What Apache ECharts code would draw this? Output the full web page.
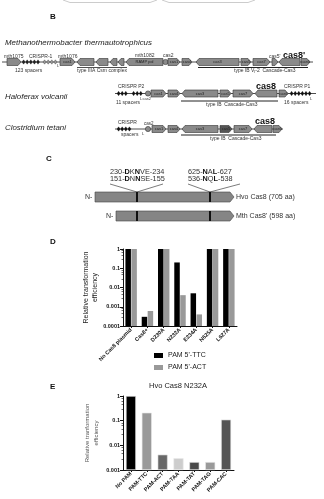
<!DOCTYPE html>
<html>
<head>
<meta charset="utf-8">
<script src="https://cdn.jsdelivr.net/npm/echarts@6/dist/echarts.min.js"></script>
<style>
  html, body { margin: 0; padding: 0; background: #fff; }
  #chart { width: 324px; height: 499px; }
</style>
</head>
<body>
<div id="chart"></div>
<script>
// panel D: relative transformation efficiency per Cas8 variant
const mutants = ["No Cas8 plasmid", "Cas8+", "D230A", "N232A", "E234A", "N625A", "L627A"]
const pamTTC = [1, 0.0003, 1, 0.2, 0.005, 1, 1]
const pamACT = [1, 0.0006, 1, 0.004, 0.0004, 1, 1]
const dTicks = ["0.0001", "0.001", "0.01", "0.1", "1"]

// panel E: Hvo Cas8 N232A against different PAMs
const pams = ["No PAM", "PAM-TTC", "PAM-ACT", "PAM-TAA", "PAM-TAT", "PAM-TAG", "PAM-CAC"]
const pamEff = [1, 0.21, 0.0042, 0.003, 0.0021, 0.0021, 0.11]
const eTicks = ["0.001", "0.01", "0.1", "1"]

const eColors = ["#000", "#9a9a9a", "#686868", "#cdcdcd", "#4a4a4a", "#9a9a9a", "#555"]
const F = "Liberation Sans, Arial, sans-serif"

// ---- drawing helpers for the gene maps (panels B, C) ----
const els = []
function T(x, y, s, size, o = {}) {
  els.push({
    type: "text", x, y, silent: true,
    style: {
      text: s, fontSize: size, fontFamily: F,
      fill: o.fill || "#333", align: o.align || "left", verticalAlign: "middle",
      fontWeight: o.bold ? "bold" : "normal", fontStyle: o.italic ? "italic" : "normal",
      rich: o.rich,
    },
  })
}
function L(x1, y1, x2, y2, w = 0.8, c = "#222") {
  els.push({ type: "line", silent: true, shape: { x1, y1, x2, y2 }, style: { stroke: c, lineWidth: w } })
}
function gene(x1, x2, y, dir, label, fill = "#8a8a8a") {
  const p = 3, t = y - 3.5, b = y + 3.5
  const pts = dir === "r"
    ? [[x1, t], [x2 - p, t], [x2, y], [x2 - p, b], [x1, b]]
    : [[x1 + p, t], [x2, t], [x2, b], [x1 + p, b], [x1, y]]
  els.push({ type: "polygon", silent: true, shape: { points: pts }, style: { fill, stroke: "#333", lineWidth: 0.6 } })
  if (label) T((x1 + x2) / 2, y, label, 4, { align: "center", fill: "#222" })
}
function crispr(x1, x2, y, fill) {
  for (let x = x1; x + 3 <= x2; x += 3.6) {
    els.push({
      type: "polygon", silent: true,
      shape: { points: [[x, y], [x + 1.6, y - 2.2], [x + 3.2, y], [x + 1.6, y + 2.2]] },
      style: { fill, stroke: "#111", lineWidth: 0.3 },
    })
  }
}
function dot(cx, cy) {
  els.push({ type: "circle", silent: true, shape: { cx, cy, r: 2.6 }, style: { fill: "#8a8a8a", stroke: "#333", lineWidth: 0.6 } })
}

// remnants of the panel above
els.push({ type: "polyline", silent: true, shape: { points: [[63, 0], [70, 2.5], [150, 2.5], [157, 0]] }, style: { stroke: "#ccc", lineWidth: 1, fill: null } })
els.push({ type: "polyline", silent: true, shape: { points: [[162, 0], [169, 2.5], [248, 2.5], [255, 0]] }, style: { stroke: "#ccc", lineWidth: 1, fill: null } })

// panel letters
T(50, 17, "B", 8, { bold: true, fill: "#111" })
T(46, 159, "C", 8, { bold: true, fill: "#111" })
T(50, 242, "D", 8, { bold: true, fill: "#111" })
T(50, 387, "E", 8, { bold: true, fill: "#111" })

const sub = { s: { fontSize: 3.5, fontFamily: F, fill: "#333", verticalAlign: "bottom", padding: [3, 0, 0, 0] } }

// Methanothermobacter row
T(5, 43, "Methanothermobacter thermautotrophicus", 7.9, { italic: true, fill: "#222" })
L(2, 62, 313, 62)
gene(7, 21, 62, "r", "")
crispr(22, 40, 62, "#222")
crispr(43, 58, 62, "#999")
gene(60, 75, 62, "r", "cas1")
gene(77, 94, 62, "l", "")
gene(96, 108, 62, "l", "")
gene(110, 117, 62, "l", "")
gene(118, 124, 62, "l", "")
gene(126, 163, 62, "l", "RAMP pol")
dot(165.5, 62)
gene(168, 180, 62, "r", "cas1")
gene(182, 192, 62, "r", "cas4")
gene(196, 239, 62, "l", "cas3")
gene(241, 251, 62, "r", "cas5")
gene(253, 270, 62, "r", "cas7")
gene(272, 278, 62, "r", "")
gene(279, 300, 62, "l", "")
gene(301, 310, 62, "r", "cas6")
T(4, 56.5, "mth1075", 5)
T(29, 56.5, "CRISPR-1", 5)
T(58, 56.5, "mth1076", 5)
T(135, 55.5, "mth1082", 5)
T(163, 56, "cas2", 5)
T(269, 57, "cas5'", 5)
T(283, 56, "cas8'", 9, { bold: true, fill: "#111" })
T(57, 66, "L", 4)
T(15, 70.5, "123 spacers", 5)
L(77, 67.5, 127, 67.5)
T(77, 70.5, "type IIIA Csm complex", 5)
L(198, 67.5, 308, 67.5, 1)
T(234, 70.5, "type IB V{s|I}-2  Cascade-Cas3", 5, { rich: sub })

// Haloferax row
T(5, 97, "Haloferax volcanii", 7.9, { italic: true, fill: "#222" })
L(115, 93.5, 316, 93.5)
crispr(117, 129, 93.5, "#111")
crispr(132, 144, 93.5, "#111")
dot(148, 93.5)
gene(151, 166, 93.5, "r", "cas1")
gene(168, 180, 93.5, "r", "cas4")
gene(182, 218, 93.5, "l", "cas3")
gene(220, 231, 93.5, "r", "cas5")
gene(233, 253, 93.5, "r", "cas7")
gene(255, 277, 93.5, "l", "")
gene(279, 288, 93.5, "r", "cas6")
crispr(290, 314, 93.5, "#111")
T(118, 87, "CRISPR P2", 5)
T(256, 86.5, "cas8", 9, { bold: true, fill: "#111" })
T(284, 87, "CRISPR P1", 5)
T(140, 99, "L", 4)
T(142.5, 99, "cas2", 4)
T(116, 103, "11 spacers", 5)
L(181, 101, 278, 101, 1)
T(206, 105, "type IB  Cascade-Cas3", 5)
T(284, 103, "16 spacers", 5)
T(310, 99, "L", 4)

// Clostridium row
T(5, 128, "Clostridium tetani", 7.9, { italic: true, fill: "#222" })
L(115, 129, 283, 129)
crispr(117, 131, 129, "#111")
dot(148, 129)
gene(152, 166, 129, "r", "cas1")
gene(168, 180, 129, "r", "cas4")
gene(182, 218, 129, "l", "cas3")
gene(220, 232, 129, "r", "cas5", "#555")
gene(234, 252, 129, "r", "cas7")
gene(254, 272, 129, "l", "")
gene(273, 282, 129, "r", "cas6")
T(118, 123, "CRISPR", 5)
T(144, 123.5, "cas2", 4.5)
T(255, 122, "cas8", 9, { bold: true, fill: "#111" })
T(121, 134.5, "spacers", 5)
T(142, 134, "L", 4)
L(181, 135, 276, 135, 1)
T(210, 138.5, "type IB  Cascade-Cas3", 5)

// panel C: protein bars with motifs
const bold = { b: { fontWeight: "bold", fontSize: 7.3, fontFamily: F, fill: "#111" } }
T(110, 172, "230-{b|D}K{b|N}VE-234", 7.3, { rich: bold })
T(110, 179, "151-{b|D}N{b|N}SE-155", 7.3, { rich: bold })
T(188, 172, "625-{b|N}A{b|L}-627", 7.3, { rich: bold })
T(188, 179, "536-{b|N}Q{b|L}-538", 7.3, { rich: bold })
L(110, 184, 137, 192, 0.6)
L(163, 184, 137, 192, 0.6)
L(188, 184, 210, 192, 0.6)
L(240, 184, 210, 192, 0.6)
function protein(x1, y) {
  els.push({
    type: "polygon", silent: true,
    shape: { points: [[x1, y - 5], [230, y - 5], [234, y], [230, y + 5], [x1, y + 5]] },
    style: { fill: "#858585", stroke: "#444", lineWidth: 0.6 },
  })
  els.push({ type: "rect", silent: true, shape: { x: 136, y: y - 5, width: 2, height: 10 }, style: { fill: "#111" } })
  els.push({ type: "rect", silent: true, shape: { x: 209, y: y - 5, width: 2, height: 10 }, style: { fill: "#111" } })
  T(x1 - 10, y, "N-", 7)
}
protein(95, 197)
protein(116, 216)
T(236, 197, "Hvo Cas8 (705 aa)", 7)
T(236, 216, "Mth Cas8' (598 aa)", 7)

// panel E title
T(178, 386, "Hvo Cas8 N232A", 7.5, { align: "center", fill: "#222" })

function logLabel(ticks, minExp) {
  return (v) => ticks[Math.round(Math.log10(v)) - minExp] || ""
}

const axisBase = {
  axisLine: { show: true, lineStyle: { color: "#111", width: 1 } },
  splitLine: { show: false },
}

const chart = echarts.init(document.getElementById("chart"))
chart.setOption({
  animation: false,
  textStyle: { fontFamily: F },
  legend: {
    data: ["PAM 5'-TTC", "PAM 5'-ACT"],
    left: 149, top: 347, orient: "vertical",
    icon: "rect", itemWidth: 9, itemHeight: 5, itemGap: 5,
    textStyle: { fontSize: 7, color: "#222" },
  },
  grid: [
    { left: 123, top: 249, width: 114, height: 77 },
    { left: 123, top: 396, width: 111, height: 74 },
  ],
  xAxis: [
    {
      ...axisBase, type: "category", gridIndex: 0, data: mutants,
      axisTick: { show: true, length: 2, alignWithLabel: true, lineStyle: { color: "#111" } },
      axisLabel: { rotate: 45, interval: 0, fontSize: 5.5, fontWeight: "bold", color: "#111", margin: 3 },
    },
    {
      ...axisBase, type: "category", gridIndex: 1, data: pams,
      axisTick: { show: true, length: 2, alignWithLabel: true, lineStyle: { color: "#111" } },
      axisLabel: { rotate: 45, interval: 0, fontSize: 5.5, fontWeight: "bold", color: "#111", margin: 3 },
    },
  ],
  yAxis: [
    {
      ...axisBase, type: "log", gridIndex: 0, logBase: 10, min: 0.0001, max: 1, startValue: 0.0001,
      axisTick: { show: true, length: 3, lineStyle: { color: "#111" } },
      minorTick: { show: true, splitNumber: 5, length: 1.5, lineStyle: { color: "#111", width: 0.6 } },
      axisLabel: { fontSize: 5.5, fontWeight: "bold", color: "#111", margin: 3, formatter: logLabel(dTicks, -4) },
      name: "Relative transformation\nefficiency", nameLocation: "middle", nameRotate: 90, nameGap: 22,
      nameTextStyle: { fontSize: 7, color: "#222", lineHeight: 9 },
    },
    {
      ...axisBase, type: "log", gridIndex: 1, logBase: 10, min: 0.001, max: 1, startValue: 0.001,
      axisTick: { show: true, length: 3, lineStyle: { color: "#111" } },
      minorTick: { show: true, splitNumber: 5, length: 1.5, lineStyle: { color: "#111", width: 0.6 } },
      axisLabel: { fontSize: 5.5, fontWeight: "bold", color: "#111", margin: 3, formatter: logLabel(eTicks, -3) },
      name: "Relative tranformation\nefficiency", nameLocation: "middle", nameRotate: 90, nameGap: 22,
      nameTextStyle: { fontSize: 6, color: "#555", lineHeight: 9 },
    },
  ],
  series: [
    {
      name: "PAM 5'-TTC", type: "bar", xAxisIndex: 0, yAxisIndex: 0,
      data: pamTTC, barWidth: 5.5, barGap: "8%", itemStyle: { color: "#000" },
    },
    {
      name: "PAM 5'-ACT", type: "bar", xAxisIndex: 0, yAxisIndex: 0,
      data: pamACT, barWidth: 5.5, barGap: "8%", itemStyle: { color: "#999" },
    },
    {
      name: "Hvo Cas8 N232A", type: "bar", xAxisIndex: 1, yAxisIndex: 1, barWidth: 10,
      data: pamEff.map((v, i) => ({ value: v, itemStyle: { color: eColors[i], borderColor: "#e8e8e8", borderWidth: 0.6 } })),
    },
  ],
  graphic: { elements: els },
})
</script>
</body>
</html>
